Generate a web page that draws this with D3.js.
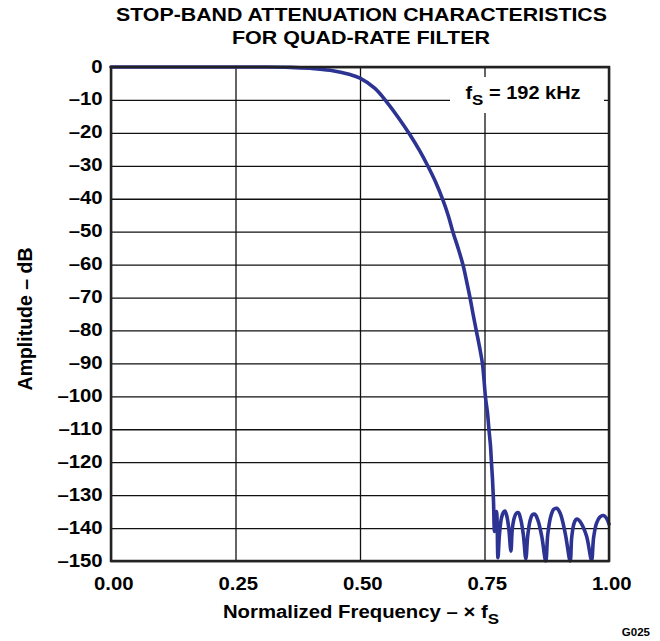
<!DOCTYPE html>
<html>
<head>
<meta charset="utf-8">
<script src="https://cdn.jsdelivr.net/npm/d3@7"></script>
<style>
  body { margin: 0; background: #fff; }
  text { font-family: "Liberation Sans", Arial, Helvetica, sans-serif; font-weight: bold; fill: #000; }
</style>
</head>
<body>
<svg id="chart" width="660" height="641"></svg>
<script>
// Normalized frequency (× fS) and filter response (dB)
const freq = [
  0.00, 0.10, 0.20, 0.30, 0.36, 0.40, 0.44, 0.48, 0.50, 0.53, 0.553, 0.58, 0.60, 0.62,
  0.637, 0.652, 0.666, 0.677, 0.687, 0.697, 0.707, 0.714, 0.721, 0.727, 0.734, 0.740,
  0.746, 0.749, 0.752, 0.756, 0.759, 0.762, 0.764, 0.766, 0.768, 0.770,
  0.772, 0.774, 0.777,
  0.780, 0.784, 0.788, 0.791, 0.795, 0.799, 0.803,
  0.806, 0.810, 0.814, 0.818, 0.823, 0.828, 0.833,
  0.837, 0.842, 0.846, 0.851, 0.857, 0.865, 0.873,
  0.877, 0.883, 0.889, 0.895, 0.902, 0.912, 0.922,
  0.925, 0.929, 0.933, 0.937, 0.944, 0.955, 0.965,
  0.969, 0.975, 0.982, 0.989, 0.995, 1.000
];
const ampDb = [
  0, 0, 0, 0, -0.1, -0.4, -1.0, -2.3, -3.4, -6.5, -10.5, -16, -20.5, -25.5,
  -30.3, -35, -40.2, -45, -50.3, -55, -60.2, -65, -70.1, -75, -80.4, -85,
  -90.2, -95, -100.3, -105, -110.2, -115, -120.2, -125, -131.5, -141,
  -136, -135, -149,
  -142, -137, -135.2, -134.8, -136.5, -140.5, -147,
  -140, -136.8, -135.5, -135.3, -137.5, -142, -149.3,
  -142, -137.5, -136, -135.8, -137.5, -142.5, -150,
  -142, -136.5, -134.3, -134, -135.5, -141.5, -150,
  -143, -139, -137.5, -137.3, -138.5, -142.5, -149.7,
  -143, -138.5, -136.6, -136.2, -137, -138.8
];
const xTicks = [0, 0.25, 0.50, 0.75, 1.00];
const yTicks = [0, -10, -20, -30, -40, -50, -60, -70, -80, -90, -100, -110, -120, -130, -140, -150];

const W = 660, H = 641;
const margin = { top: 67, right: 51, bottom: 80, left: 111 };
const pw = W - margin.left - margin.right;
const ph = H - margin.top - margin.bottom;
const FS = 18;          // label font size
const WIDEN = 1.13;     // horizontal widening of the lettering

const svg = d3.select("#chart");
const g = svg.append("g").attr("transform", `translate(${margin.left},${margin.top})`);

const x = d3.scaleLinear().domain([0, 1]).range([0, pw]);
const y = d3.scaleLinear().domain([-150, 0]).range([ph, 0]);

const fmtY = d => d === 0 ? "0" : "\u2013" + Math.abs(d);

// Grid lines
g.append("g")
  .attr("transform", `translate(0,${ph})`)
  .call(d3.axisBottom(x).tickValues(xTicks).tickSize(-ph).tickFormat(""))
  .call(s => s.select(".domain").remove())
  .call(s => s.selectAll("line").attr("stroke", "#111").attr("stroke-width", 1.3));
g.append("g")
  .call(d3.axisLeft(y).tickValues(yTicks).tickSize(-pw).tickFormat(""))
  .call(s => s.select(".domain").remove())
  .call(s => s.selectAll("line").attr("stroke", "#111").attr("stroke-width", 1.3));

// Annotation box covering the grid
g.append("rect")
  .attr("x", 339).attr("y", 10).attr("width", 154).attr("height", 36)
  .attr("fill", "#fff");

// Response curve
const line = d3.line()
  .x((d, i) => x(freq[i]))
  .y(d => y(d))
  .curve(d3.curveCatmullRom.alpha(0.5));
g.append("path")
  .datum(ampDb)
  .attr("d", line)
  .attr("fill", "none")
  .attr("stroke", "#2c3392")
  .attr("stroke-width", 3.6)
  .attr("stroke-linejoin", "round")
  .attr("stroke-linecap", "round");

// Frame
g.append("rect")
  .attr("x", 0).attr("y", 0).attr("width", pw).attr("height", ph)
  .attr("fill", "none").attr("stroke", "#222").attr("stroke-width", 2.5);

// Tick labels
const yAxis = g.append("g")
  .call(d3.axisLeft(y).tickValues(yTicks).tickSize(0).tickPadding(0).tickFormat(fmtY));
yAxis.select(".domain").remove();
yAxis.selectAll("text")
  .attr("x", -7.4).attr("dy", "0.28em")
  .attr("font-size", FS).attr("font-family", "Liberation Sans, Arial, sans-serif")
  .attr("font-weight", "bold").attr("fill", "#000")
  .attr("transform", `scale(${WIDEN},1)`);

const xAxis = g.append("g")
  .attr("transform", `translate(0,${ph})`)
  .call(d3.axisBottom(x).tickValues(xTicks).tickSize(0).tickPadding(0).tickFormat(d3.format(".2f")));
xAxis.select(".domain").remove();
xAxis.selectAll("text")
  .attr("x", 2).attr("y", 29).attr("dy", 0)
  .attr("font-size", FS).attr("font-family", "Liberation Sans, Arial, sans-serif")
  .attr("font-weight", "bold").attr("fill", "#000")
  .attr("transform", `scale(${WIDEN},1)`);

// Titles
svg.append("text").attr("x", 361.5).attr("y", 21).attr("text-anchor", "middle")
  .attr("font-size", FS).attr("textLength", 491).attr("lengthAdjust", "spacingAndGlyphs")
  .text("STOP-BAND ATTENUATION CHARACTERISTICS");
svg.append("text").attr("x", 361).attr("y", 44).attr("text-anchor", "middle")
  .attr("font-size", FS).attr("textLength", 258).attr("lengthAdjust", "spacingAndGlyphs")
  .text("FOR QUAD-RATE FILTER");

// Axis titles
svg.append("text")
  .attr("transform", `translate(31.5,319) rotate(-90) scale(1,1.08)`)
  .attr("text-anchor", "middle").attr("font-size", 19.5).text("Amplitude \u2013 dB");

const xt = svg.append("g").attr("transform", `translate(361,618) scale(${WIDEN},1)`)
  .append("text").attr("x", 0).attr("y", 0).attr("text-anchor", "middle").attr("font-size", FS);
xt.append("tspan").text("Normalized Frequency \u2013 \u00d7 f");
xt.append("tspan").attr("dy", 6).attr("font-size", FS - 3).text("S");

// Sampling-rate annotation
const ann = g.append("g").attr("transform", `translate(412,${99.3 - margin.top}) scale(${WIDEN},1)`)
  .append("text").attr("x", 0).attr("y", 0).attr("text-anchor", "middle").attr("font-size", FS - 0.3);
ann.append("tspan").text("f");
ann.append("tspan").attr("dy", 6).attr("font-size", FS - 3).text("S");
ann.append("tspan").attr("dy", -6).text(" = 192 kHz");

// Figure id
svg.append("text").attr("x", 650).attr("y", 636).attr("text-anchor", "end")
  .attr("font-size", 11.5).attr("font-weight", "normal").text("G025");
</script>
</body>
</html>
